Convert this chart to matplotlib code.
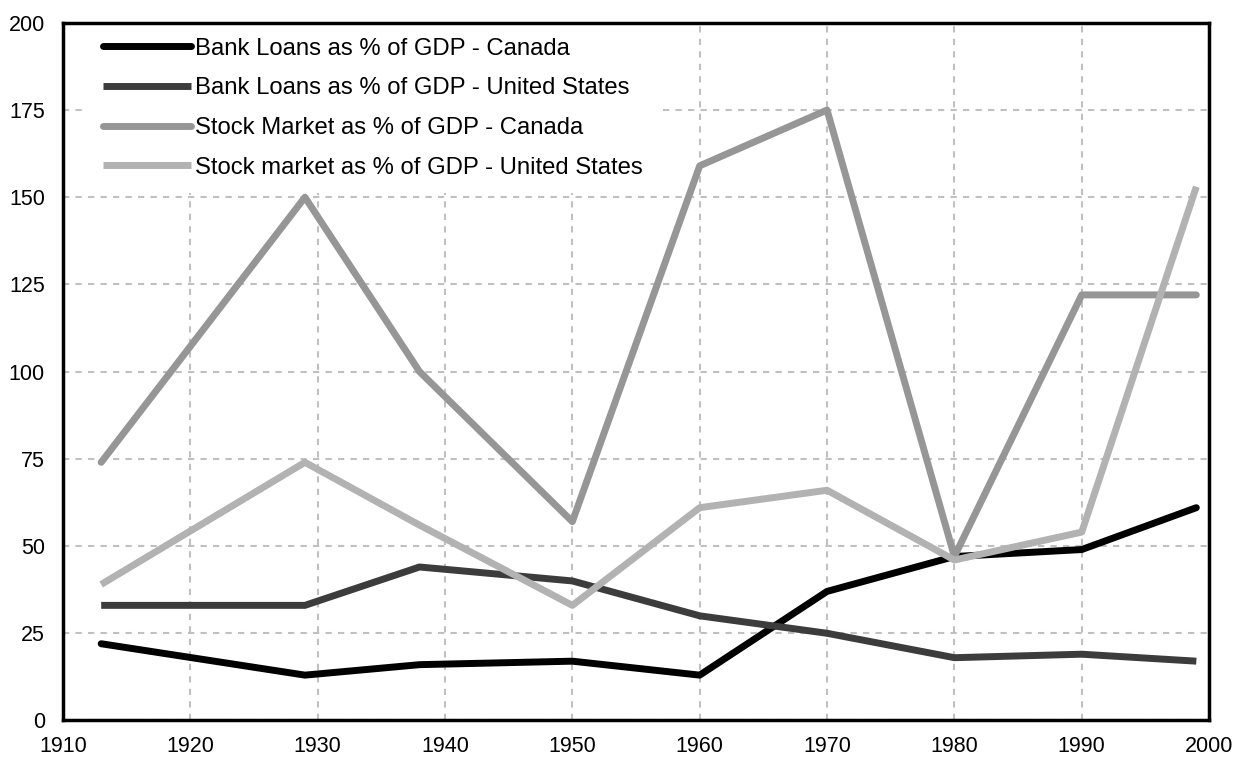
import matplotlib
matplotlib.use("Agg")
import matplotlib.pyplot as plt

plt.rcParams['font.family'] = ['Liberation Sans', 'DejaVu Sans']

years = [1913, 1929, 1938, 1950, 1960, 1970, 1980, 1990, 1999]
bank_canada = [22, 13, 16, 17, 13, 37, 47, 49, 61]
bank_us = [33, 33, 44, 40, 30, 25, 18, 19, 17]
stock_canada = [74, 150, 100, 57, 159, 175, 47, 122, 122]
stock_us = [39, 74, 56, 33, 61, 66, 46, 54, 153]

labels = ["Bank Loans as % of GDP - Canada",
          "Bank Loans as % of GDP - United States",
          "Stock Market as % of GDP - Canada",
          "Stock market as % of GDP - United States"]

fig = plt.figure(figsize=(12.35, 7.6), dpi=100)
ax = fig.add_axes([0.051, 0.052, 0.928, 0.918])

lw = 5
ax.plot(years, bank_canada, color="#000000", lw=lw, solid_capstyle="round",
        solid_joinstyle="round", label=labels[0])
ax.plot(years, bank_us, color="#3c3c3c", lw=lw, solid_capstyle="butt",
        label=labels[1])
ax.plot(years, stock_canada, color="#969696", lw=lw, solid_capstyle="round",
        solid_joinstyle="round", label=labels[2])
ax.plot(years, stock_us, color="#b2b2b2", lw=lw, solid_capstyle="butt",
        label=labels[3])

ax.set_xlim(1910, 2000)
ax.set_ylim(0, 200)
ax.set_xticks(range(1910, 2001, 10))
ax.set_yticks(range(0, 201, 25))
ax.set_axisbelow(True)
ax.grid(True, color="#c0c0c0", linestyle=(0, (3, 3)), lw=1.5)
ax.tick_params(length=0, labelsize=15.5)
ax.tick_params(axis="x", pad=11)
ax.tick_params(axis="y", pad=13)
for s in ax.spines.values():
    s.set_linewidth(2.5)

leg = ax.legend(loc="upper left", bbox_to_anchor=(0.022, 1.0),
                fontsize=17.2, handlelength=3.7, handletextpad=0.17,
                labelspacing=0.74, borderaxespad=0.0, borderpad=0.62,
                frameon=True, fancybox=False, edgecolor="none",
                facecolor="white", framealpha=1.0)
leg.set_zorder(1)

fig.savefig("out.png", dpi=100)
